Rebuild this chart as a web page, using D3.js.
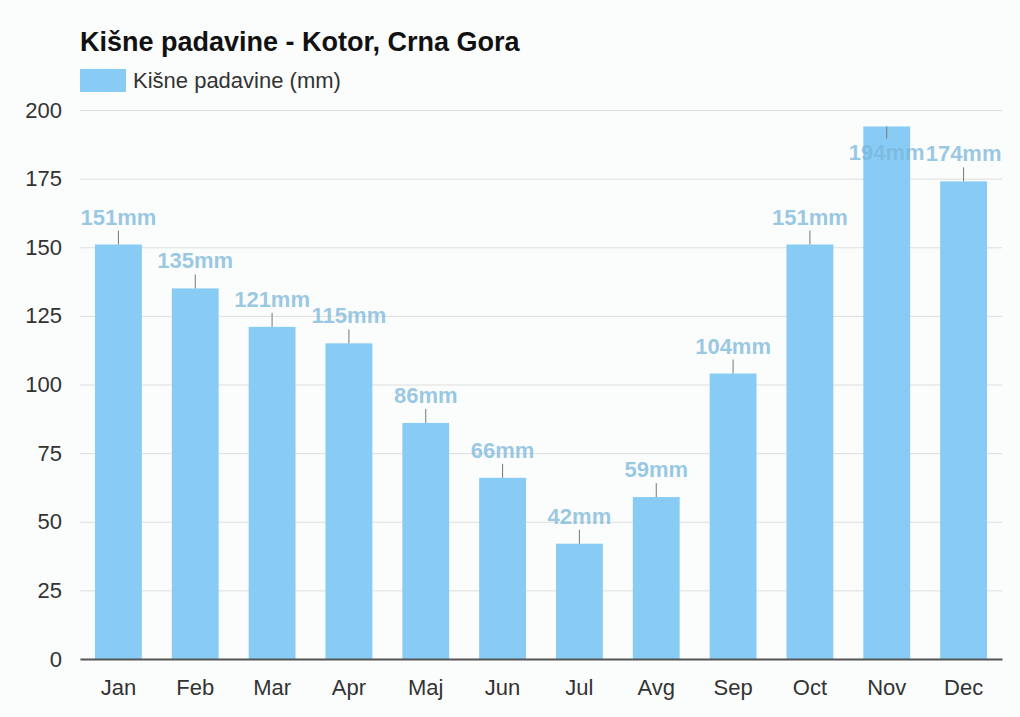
<!DOCTYPE html>
<html>
<head>
<meta charset="utf-8">
<script src="https://cdn.jsdelivr.net/npm/d3@7"></script>
<style>
	body { margin: 0; background: #fafdfb; }
	svg { display: block; font-family: "Liberation Sans", Arial, sans-serif; }
</style>
</head>
<body>
<div id="chart"></div>
<script>
// podaci
var months = ["Jan", "Feb", "Mar", "Apr", "Maj", "Jun", "Jul", "Avg", "Sep", "Oct", "Nov", "Dec"];
var rainfall = [151, 135, 121, 115, 86, 66, 42, 59, 104, 151, 194, 174];
var yTicks = [0, 25, 50, 75, 100, 125, 150, 175, 200];
var titleText = "Kišne padavine - Kotor, Crna Gora";
var legendText = "Kišne padavine (mm)";

var w = 1020, h = 717;
var plotLeft = 80, plotRight = 1002, plotTop = 110, plotBottom = 659;
var barColor = "#88ccf6";
var labelColor = "rgb(122,182,218)";
var fontSize = 22;

var svg = d3.select("#chart")
	.append("svg")
	.attr("width", w)
	.attr("height", h);

svg.append("rect")
	.attr("width", w)
	.attr("height", h)
	.attr("fill", "#fafdfb");

var xScale = d3.scaleBand()
	.domain(months)
	.range([plotLeft, plotRight])
	.paddingInner(0.39)
	.paddingOuter(0.195);

var yScale = d3.scaleLinear()
	.domain([0, 200])
	.range([plotBottom, plotTop]);

// naslov
svg.append("text")
	.attr("x", 80)
	.attr("y", 51)
	.attr("font-size", 27)
	.attr("font-weight", "bold")
	.attr("fill", "#111")
	.text(titleText);

// legenda
svg.append("rect")
	.attr("x", 80)
	.attr("y", 69)
	.attr("width", 46)
	.attr("height", 23)
	.attr("fill", barColor);
svg.append("text")
	.attr("x", 133)
	.attr("y", 88)
	.attr("font-size", fontSize)
	.attr("fill", "#333")
	.text(legendText);

// mreža
var yGrid = d3.axisLeft(yScale)
	.tickValues(yTicks)
	.tickSize(-(plotRight - plotLeft))
	.tickFormat("");
svg.append("g")
	.attr("transform", "translate(" + plotLeft + ",0)")
	.call(yGrid)
	.call(function(g) {
		g.select(".domain").remove();
		g.selectAll("line").attr("stroke", "#dedede").attr("stroke-width", 1);
	});

// y os
var yAxis = d3.axisLeft(yScale)
	.tickValues(yTicks)
	.tickSize(0)
	.tickPadding(18);
svg.append("g")
	.attr("transform", "translate(" + plotLeft + ",0)")
	.call(yAxis)
	.call(function(g) {
		g.select(".domain").remove();
		g.selectAll("text")
			.attr("font-size", fontSize)
			.attr("font-family", "Liberation Sans, Arial, sans-serif")
			.attr("fill", "#333");
	});

// stubci
svg.append("g")
	.selectAll("rect")
	.data(rainfall)
	.enter()
	.append("rect")
	.attr("x", function(d, i) { return xScale(months[i]); })
	.attr("y", function(d) { return yScale(d); })
	.attr("width", xScale.bandwidth())
	.attr("height", function(d) { return plotBottom - yScale(d); })
	.attr("fill", barColor);

// x os
var xAxis = d3.axisBottom(xScale)
	.tickSize(0)
	.tickPadding(20);
svg.append("g")
	.attr("transform", "translate(0," + plotBottom + ")")
	.call(xAxis)
	.call(function(g) {
		g.select(".domain").attr("stroke", "#555").attr("stroke-width", 2);
		g.selectAll("text")
			.attr("font-size", fontSize)
			.attr("font-family", "Liberation Sans, Arial, sans-serif")
			.attr("fill", "#333");
	});

// oznake vrijednosti
var minBase = 160;
var labels = svg.append("g");
rainfall.forEach(function(d, i) {
	var cx = xScale(months[i]) + xScale.bandwidth() / 2;
	var barTop = yScale(d);
	var base = barTop - 20;
	var tickEnd = barTop - 14;
	if (base < minBase) {
		// oznaka ne smije izaći iznad grafa
		base = minBase;
		tickEnd = barTop < base - 20 ? barTop + 12 : base + 5;
	}
	labels.append("line")
		.attr("x1", cx).attr("x2", cx)
		.attr("y1", barTop).attr("y2", tickEnd)
		.attr("stroke", "#777")
		.attr("stroke-width", 1);
	labels.append("text")
		.attr("x", cx)
		.attr("y", base)
		.attr("text-anchor", "middle")
		.attr("font-size", fontSize)
		.attr("font-weight", "bold")
		.attr("fill", labelColor)
		.attr("fill-opacity", 0.75)
		.text(d + "mm");
});
</script>
</body>
</html>
